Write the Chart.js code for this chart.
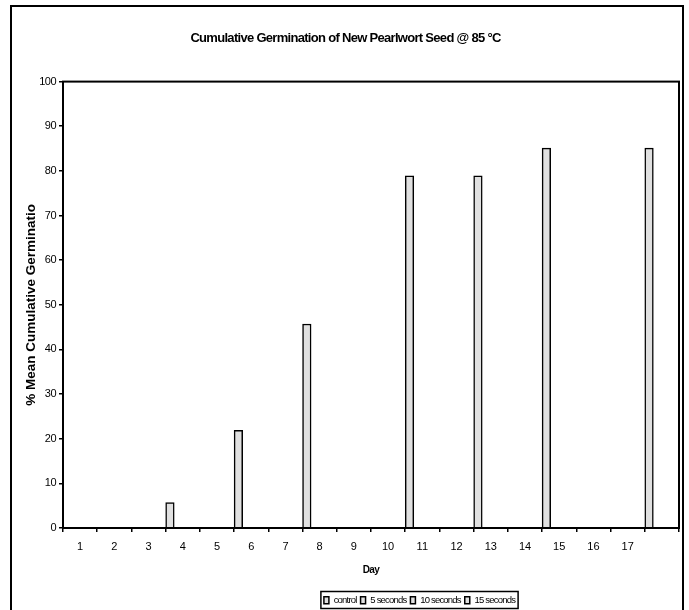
<!DOCTYPE html>
<html>
<head>
<meta charset="utf-8">
<script src="https://cdn.jsdelivr.net/npm/chart.js@4.4.0/dist/chart.umd.min.js"></script>
<style>
  html, body { margin: 0; padding: 0; background: #fff; }
</style>
</head>
<body>
<canvas id="germ-chart" width="689" height="610"></canvas>
<script>
// Datos
const days = ['1', '2', '3', '4', '5', '6', '7', '8', '9', '10', '11', '12', '13', '14', '15', '16', '17', ''];
const control = [null, null, null, 5.7, null, 21.9, null, 45.7, null, null, 78.9, null, 78.9, null, 85.1, null, null, 85.1];
const fiveSeconds = [null, null, null, null, null, null, null, null, null, null, null, null, null, null, null, null, null, null];
const tenSeconds = [null, null, null, null, null, null, null, null, null, null, null, null, null, null, null, null, null, null];
const fifteenSeconds = [null, null, null, null, null, null, null, null, null, null, null, null, null, null, null, null, null, null];
const seriesNames = ['control', '5 seconds', '10 seconds', '15 seconds'];

const arial = "'Liberation Sans', Arial, sans-serif";

// Texto comprimido (como el de Excel) para algunos elementos
function squeeze(chart, target, methods, spacing) {
  methods.forEach(function(name) {
    const orig = target[name].bind(target);
    target[name] = function() {
      const c = chart.ctx;
      const prev = c.letterSpacing;
      c.letterSpacing = spacing;
      try {
        return orig.apply(null, arguments);
      } finally {
        c.letterSpacing = prev;
      }
    };
  });
}

const tightText = {
  id: 'tightText',
  beforeLayout(chart) {
    if (chart.$tightDone) return;
    chart.$tightDone = true;
    squeeze(chart, chart.legend, ['fit', 'draw'], '-0.8px');
    squeeze(chart, chart.titleBlock, ['draw'], '-0.7px');
    squeeze(chart, chart.scales.y, ['drawLabels'], '-0.5px');
    squeeze(chart, chart.scales.x, ['drawTitle'], '-0.6px');
  }
};

// Marco exterior, borde del área de trazado y recuadro de la leyenda
const chartFrame = {
  id: 'chartFrame',
  afterLayout(chart) {
    chart.legend.left += 80;
    chart.legend.right += 80;
    chart.legend.top += 5;
    chart.legend.bottom += 5;
    chart.titleBlock.left += 6;
    chart.titleBlock.right += 6;
  },
  beforeDraw(chart) {
    const ctx = chart.ctx;
    ctx.save();
    ctx.fillStyle = '#fff';
    ctx.fillRect(0, 0, chart.width, chart.height);
    ctx.strokeStyle = '#000';
    ctx.lineWidth = 2;
    ctx.strokeRect(11, 6, 672, 630);
    ctx.restore();
  },
  afterDraw(chart) {
    const ctx = chart.ctx;
    const area = chart.chartArea;
    ctx.save();
    ctx.strokeStyle = '#000';
    ctx.lineWidth = 2;
    ctx.strokeRect(area.left, area.top, area.right - area.left, area.bottom - area.top);

    const lg = chart.legend;
    const pad = lg.options.labels.padding;
    const itemsW = lg.lineWidths[0] - pad;
    const cx = (lg.left + lg.right) / 2;
    const top = lg.top + pad;
    ctx.lineWidth = 1.5;
    ctx.strokeRect(cx - itemsW / 2 - 3, top - 4, itemsW + 6, 10 + 7);
    ctx.restore();
  }
};

function makeDataset(label, values) {
  return {
    label: label,
    data: values,
    backgroundColor: '#e0e0e0',
    borderColor: '#000',
    borderWidth: 1.5,
    borderSkipped: 'bottom',
    categoryPercentage: 1,
    barPercentage: 1
  };
}

const ctx = document.getElementById('germ-chart').getContext('2d');
new Chart(ctx, {
  type: 'bar',
  data: {
    labels: days,
    datasets: [
      makeDataset(seriesNames[0], control),
      makeDataset(seriesNames[1], fiveSeconds),
      makeDataset(seriesNames[2], tenSeconds),
      makeDataset(seriesNames[3], fifteenSeconds)
    ]
  },
  options: {
    responsive: false,
    animation: false,
    layout: { padding: { left: 0, right: 10, top: 0, bottom: 0 } },
    plugins: {
      title: {
        display: true,
        text: 'Cumulative Germination of New Pearlwort Seed @ 85 °C',
        color: '#000',
        font: { family: arial, size: 13, weight: 'bold' },
        padding: { top: 31, bottom: 35 }
      },
      legend: {
        position: 'bottom',
        labels: {
          color: '#000',
          font: { family: arial, size: 9.5 },
          boxWidth: 5,
          boxHeight: 7,
          padding: 4
        }
      },
      tooltip: { enabled: false }
    },
    scales: {
      x: {
        afterFit(scale) { scale.height = 58.5; },
        grid: { drawOnChartArea: false, color: '#000', lineWidth: 1.5, tickLength: 4, offset: true },
        border: { color: '#000', width: 2 },
        ticks: { color: '#000', font: { family: arial, size: 11 }, padding: 8, maxRotation: 0, autoSkip: false },
        title: {
          display: true,
          text: 'Day',
          color: '#000',
          font: { family: arial, size: 10, weight: 'bold' },
          padding: { top: 0, bottom: 10.5 }
        }
      },
      y: {
        min: 0,
        max: 100,
        afterFit(scale) { scale.width = 63; },
        grid: { drawOnChartArea: false, color: '#000', lineWidth: 1.5, tickLength: 4 },
        border: { color: '#000', width: 2 },
        ticks: { stepSize: 10, color: '#000', font: { family: arial, size: 11 }, padding: 3 },
        title: {
          display: true,
          text: '% Mean Cumulative Germinatio',
          color: '#000',
          font: { family: arial, size: 13.5, weight: 'bold' },
          padding: { top: 23, bottom: 0 }
        }
      }
    }
  },
  plugins: [tightText, chartFrame]
});
</script>
</body>
</html>
